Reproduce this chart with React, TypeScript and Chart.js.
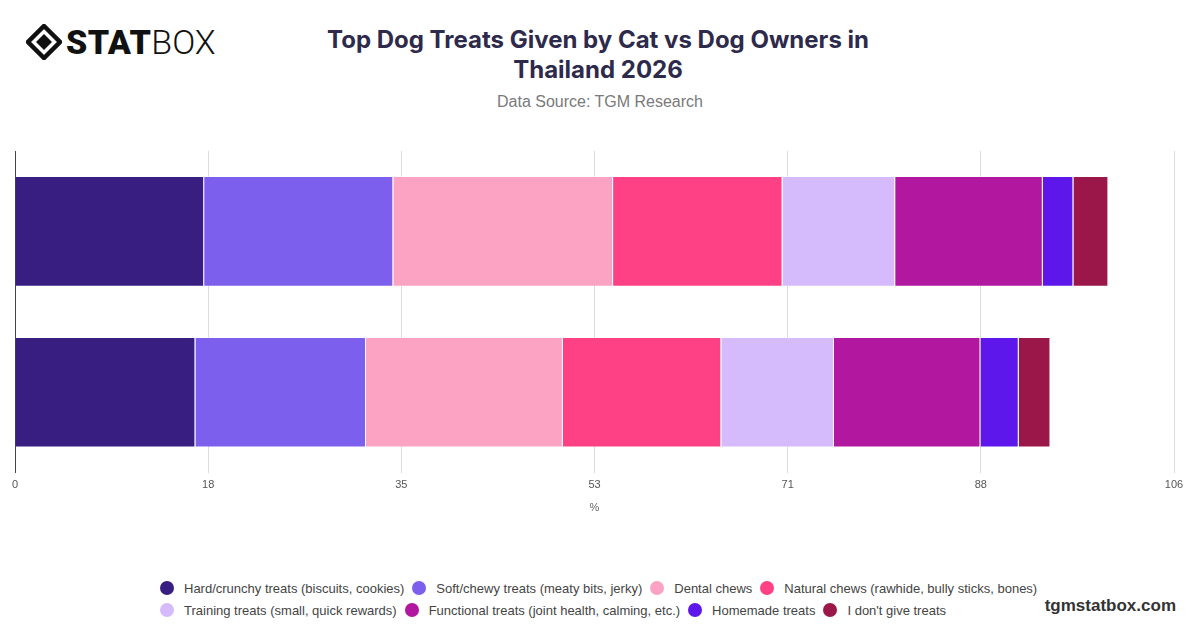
import React, { useEffect, useRef } from "react";
import { Chart, registerables } from "chart.js";

Chart.register(...registerables);

const categories = ["Cat Owners", "Dog Owners"];
const seriesLabels = [
  "Hard/crunchy treats (biscuits, cookies)",
  "Soft/chewy treats (meaty bits, jerky)",
  "Dental chews",
  "Natural chews (rawhide, bully sticks, bones)",
  "Training treats (small, quick rewards)",
  "Functional treats (joint health, calming, etc.)",
  "Homemade treats",
  "I don't give treats",
];
const hardCrunchy = [17.3, 16.5];
const softChewy = [17.3, 15.6];
const dentalChews = [20.1, 18.0];
const naturalChews = [15.5, 14.5];
const trainingTreats = [10.3, 10.3];
const functionalTreats = [13.5, 13.4];
const homemadeTreats = [2.8, 3.5];
const noTreats = [3.2, 2.9];
const seriesValues = [
  hardCrunchy,
  softChewy,
  dentalChews,
  naturalChews,
  trainingTreats,
  functionalTreats,
  homemadeTreats,
  noTreats,
];
const seriesColors = [
  "#381e80",
  "#7c5fec",
  "#fca3c4",
  "#fe4085",
  "#d5bbfb",
  "#b1179f",
  "#5e17ea",
  "#9b1749",
];
const xTickValues = [0, 17.67, 35.33, 53, 70.67, 88.33, 106];
const xMax = 106;

const FONT = "'Liberation Sans', Arial, Helvetica, sans-serif";

function Logo() {
  return (
    <div style={{ position: "absolute", left: 26, top: 22, display: "flex", alignItems: "center" }}>
      <svg width="36" height="36" viewBox="0 0 36 36">
        <polygon points="18,2 34,18 18,34 2,18" fill="none" stroke="#111" strokeWidth="4.5" />
        <polygon points="18,10 26,18 18,26 10,18" fill="#111" />
      </svg>
      <span
        style={{
          fontFamily: "Roboto, 'Liberation Sans', sans-serif",
          fontWeight: 900,
          fontSize: 34,
          color: "#111",
          marginLeft: 4,
          letterSpacing: 0.5,
        }}
      >
        STAT
      </span>
      <span
        style={{
          fontFamily: "Roboto, 'Liberation Sans', sans-serif",
          fontWeight: 300,
          fontSize: 34,
          color: "#111",
        }}
      >
        BOX
      </span>
    </div>
  );
}

export default function App() {
  const canvasRef = useRef<HTMLCanvasElement | null>(null);

  useEffect(() => {
    if (!canvasRef.current) return;
    const chart = new Chart(canvasRef.current, {
      type: "bar",
      data: {
        labels: categories,
        datasets: seriesLabels.map((label, i) => ({
          label,
          data: seriesValues[i],
          backgroundColor: seriesColors[i],
          borderColor: "rgba(255,255,255,0.35)",
          borderWidth: 1,
          barPercentage: 0.86,
          categoryPercentage: 0.8,
        })),
      },
      options: {
        indexAxis: "y",
        animation: false,
        responsive: true,
        maintainAspectRatio: false,
        layout: { padding: { left: 15, right: 26, top: 11, bottom: 0 } },
        plugins: {
          legend: { display: false },
          tooltip: { enabled: false },
          title: { display: false },
        },
        scales: {
          x: {
            stacked: true,
            min: 0,
            max: xMax,
            afterBuildTicks: (scale: any) => {
              scale.ticks = xTickValues.map((v) => ({ value: v }));
            },
            ticks: {
              color: "#555",
              font: { family: FONT, size: 11 },
              padding: 6,
              callback: (v: any) => String(Math.round(Number(v))),
            },
            grid: { color: "#dcdcdc", drawTicks: false },
            border: { display: false },
            title: {
              display: true,
              text: "%",
              color: "#666",
              font: { family: FONT, size: 11 },
              padding: { top: 4, bottom: 0 },
            },
          },
          y: {
            stacked: true,
            ticks: { display: false },
            grid: { display: false, drawTicks: false },
            border: { display: true, color: "#444", width: 1 },
          },
        },
      },
    });
    return () => chart.destroy();
  }, []);

  return (
    <div
      style={{
        position: "absolute",
        left: 0,
        top: 0,
        width: 1200,
        height: 628,
        background: "#fff",
        fontFamily: FONT,
        overflow: "hidden",
      }}
    >
      <Logo />
      <div
        style={{
          position: "absolute",
          left: 0,
          width: 1196,
          top: 25,
          textAlign: "center",
          fontFamily: "Inter, 'Liberation Sans', sans-serif",
          fontWeight: 700,
          fontSize: 24,
          lineHeight: "30px",
          color: "#2d2a4b",
        }}
      >
        Top Dog Treats Given by Cat vs Dog Owners in
        <br />
        Thailand 2026
      </div>
      <div
        style={{
          position: "absolute",
          left: 0,
          width: 1200,
          top: 93,
          textAlign: "center",
          fontSize: 16,
          color: "#7a7a7a",
        }}
      >
        Data Source: TGM Research
      </div>
      <div style={{ position: "absolute", left: 0, top: 140, width: 1200, height: 375 }}>
        <canvas ref={canvasRef} />
      </div>
      <div
        style={{
          position: "absolute",
          left: 160,
          top: 578,
          width: 900,
          display: "flex",
          flexWrap: "wrap",
          rowGap: 2,
        }}
      >
        {seriesLabels.map((label, i) => (
          <div
            key={label}
            style={{ display: "flex", alignItems: "center", height: 20, marginRight: 8 }}
          >
            <span
              style={{
                width: 14,
                height: 14,
                borderRadius: 7,
                background: seriesColors[i],
                display: "inline-block",
                marginRight: 10,
              }}
            />
            <span style={{ fontSize: 13, color: "#444", whiteSpace: "nowrap" }}>{label}</span>
          </div>
        ))}
      </div>
      <div
        style={{
          position: "absolute",
          right: 24,
          top: 596,
          fontSize: 17,
          fontWeight: 700,
          color: "#333",
        }}
      >
        tgmstatbox.com
      </div>
    </div>
  );
}
